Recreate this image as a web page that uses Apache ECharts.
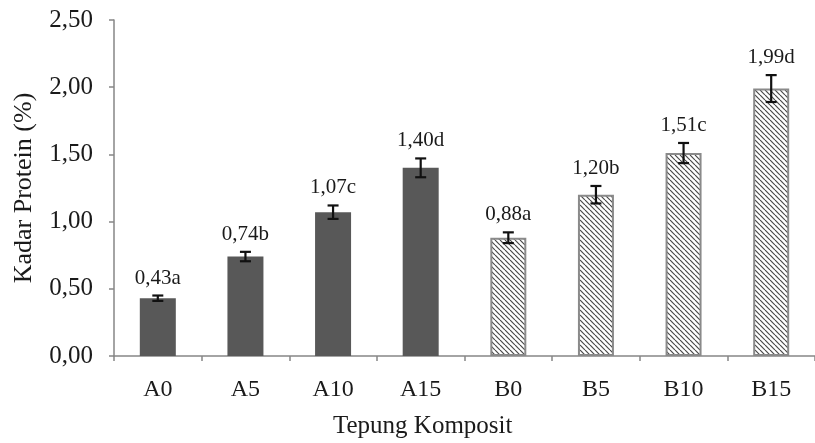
<!DOCTYPE html>
<html><head><meta charset="utf-8">
<script src="https://cdn.jsdelivr.net/npm/echarts@6/dist/echarts.min.js"></script>
<style>html,body{margin:0;padding:0;background:#fff}#c{width:815px;height:443px}</style>
</head><body><div id="c"></div>
<script>
const categories = ['A0','A5','A10','A15','B0','B5','B10','B15'];
const values = [0.43,0.74,1.07,1.40,0.88,1.20,1.51,1.99];
const errors = [0.02,0.035,0.05,0.07,0.04,0.065,0.075,0.10];
const letters = ['a','b','c','d','a','b','c','d'];
const groups = ['A','A','A','A','B','B','B','B'];
const yMin = 0, yMax = 2.5, yStep = 0.5;

function hatch() {
  const s = 5, c = document.createElement('canvas');
  c.width = s; c.height = s;
  const g = c.getContext('2d');
  g.fillStyle = '#ffffff'; g.fillRect(0,0,s,s);
  g.strokeStyle = '#4a4a4a'; g.lineWidth = 1.2;
  for (const off of [-s,0,s]) { g.beginPath(); g.moveTo(off,0); g.lineTo(off+s,s); g.stroke(); }
  return c;
}
const hatchPattern = { image: hatch(), repeat: 'repeat' };
const fmt = v => v.toFixed(2).replace('.', ',');
const serif = '"Liberation Serif","Times New Roman",serif';

const barData = values.map((v,i) => ({
  value: v,
  itemStyle: groups[i] === 'A'
    ? { color: '#585858', borderColor: '#585858', borderWidth: 0 }
    : { color: hatchPattern, borderColor: '#8a8a8a', borderWidth: 2 }
}));
const errData = values.map((v,i) => [i, v, errors[i], fmt(v) + letters[i]]);

const chart = echarts.init(document.getElementById('c'), null, {renderer:'canvas'});
chart.setOption({
  animation: false,
  backgroundColor: '#fff',
  grid: { left: 114, right: -3, top: 20, bottom: 87 },
  xAxis: {
    type: 'category', data: categories,
    axisLine: { lineStyle: { color: '#868686', width: 1.5 } },
    axisTick: { show: true, length: 5, lineStyle: { color: '#868686', width: 1.5 } },
    axisLabel: { color: '#1a1a1a', fontFamily: serif, fontSize: 24, margin: 22 }
  },
  yAxis: {
    type: 'value', min: yMin, max: yMax, interval: yStep,
    name: 'Kadar Protein (%)', nameLocation: 'middle', nameGap: 77,
    nameTextStyle: { color: '#1a1a1a', fontFamily: serif, fontSize: 26 },
    axisLine: { show: true, lineStyle: { color: '#868686', width: 1.5 } },
    axisTick: { show: true, length: 5, lineStyle: { color: '#868686', width: 1.5 } },
    splitLine: { show: false },
    axisLabel: { color: '#1a1a1a', fontFamily: serif, fontSize: 25, margin: 21, formatter: v => fmt(v) }
  },
  graphic: [{
    type: 'text', left: 333, top: 414,
    style: { text: 'Tepung Komposit', fill: '#1a1a1a', font: '25px ' + serif }
  }],
  series: [
    { type: 'bar', data: barData, barWidth: 36 },
    {
      type: 'custom', data: errData, z: 10,
      encode: { x: 0, y: 1 },
      renderItem: (params, api) => {
        const i = api.value(0), v = api.value(1), e = api.value(2);
        const top = api.coord([i, v + e]), bot = api.coord([i, v - e]);
        const x = top[0], w = 5.5;
        const st = { stroke: '#111', lineWidth: 2.2 };
        return { type: 'group', children: [
          { type: 'line', shape: { x1: x, y1: top[1], x2: x, y2: bot[1] }, style: st },
          { type: 'line', shape: { x1: x-w, y1: top[1], x2: x+w, y2: top[1] }, style: st },
          { type: 'line', shape: { x1: x-w, y1: bot[1], x2: x+w, y2: bot[1] }, style: st },
          { type: 'text', x: x, y: top[1] - 7,
            style: { text: errData[params.dataIndex][3], fill: '#1a1a1a', font: '21px ' + serif, textAlign: 'center', textVerticalAlign: 'bottom' } }
        ]};
      }
    }
  ]
});
</script></body></html>
